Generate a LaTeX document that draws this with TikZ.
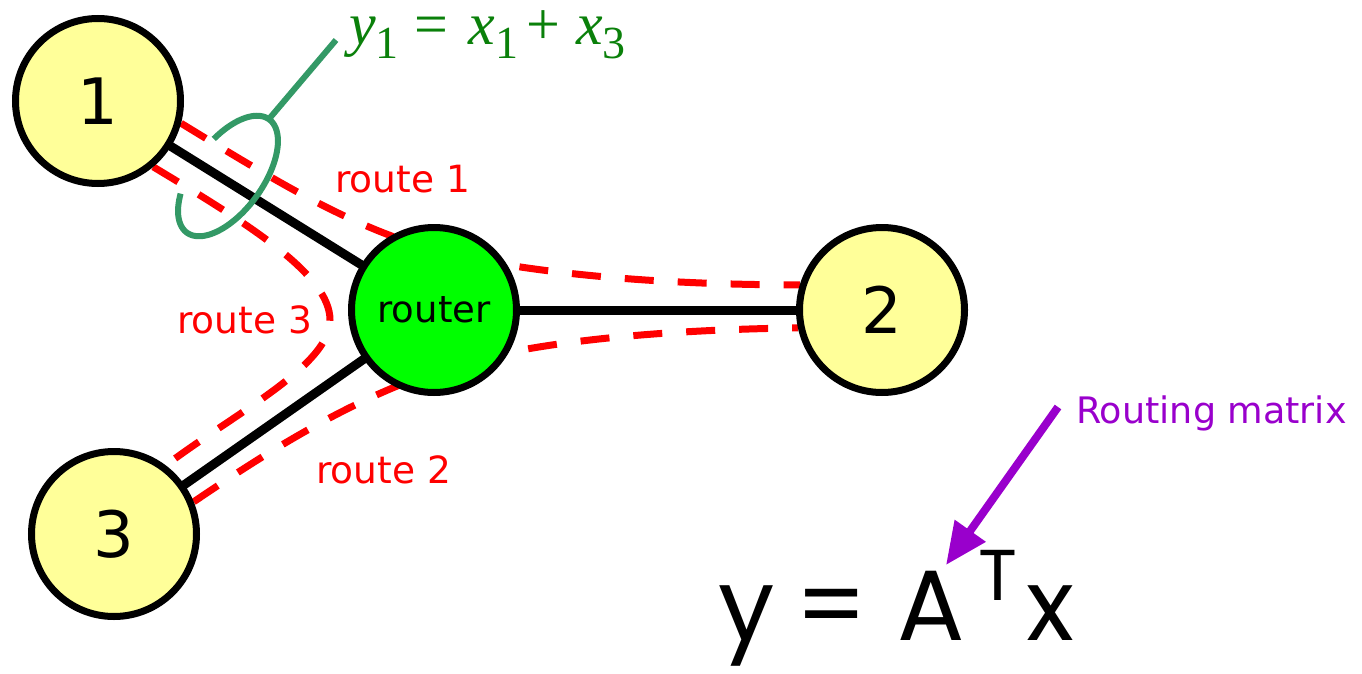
\documentclass[tikz,border=0pt]{standalone}
\usepackage{fontspec}
\setmainfont{DejaVu Sans}
\newfontfamily\tnr{Liberation Serif}
\newfontfamily\hand{Poppins}
\usetikzlibrary{arrows.meta,backgrounds}
\definecolor{hostyellow}{HTML}{FFFF99}
\definecolor{routergreen}{HTML}{00FF00}
\definecolor{routered}{HTML}{FF0000}
\definecolor{ringgreen}{HTML}{339966}
\definecolor{eqgreen}{HTML}{0A800A}
\definecolor{arrowpurple}{HTML}{9900CC}
\tikzset{
  hostnode/.style={circle, draw=black, line width=7pt, fill=hostyellow, minimum size=165pt, inner sep=0pt, font=\fontsize{64}{64}\selectfont},
  routernode/.style={circle, draw=black, line width=7pt, fill=routergreen, minimum size=165pt, inner sep=0pt, font=\fontsize{37}{37}\selectfont},
  link/.style={draw=black, line width=9pt},
  routepath/.style={draw=routered, line width=7pt, dash pattern=on 29pt off 24pt},
  routelabel/.style={anchor=base west, inner sep=0pt, text=routered, font=\fontsize{37.5}{37.5}\selectfont},
  ring/.style={draw=ringgreen, line width=6pt},
  pointer/.style={draw=arrowpurple, line width=8pt, -{Triangle[length=42pt,width=36pt]}}
}
\newcommand{\eqsub}[1]{\raisebox{-14pt}{\fontsize{46}{46}\selectfont #1}}
\begin{document}
\begin{tikzpicture}[x=1pt,y=-1pt]
\useasboundingbox (0,0) rectangle (1362,674);
% nodes
\node[hostnode] (n1) at (98,101) {1};
\node[hostnode] (n2) at (882,310) {2};
\node[hostnode] (n3) at (114,534) {3};
\node[routernode] (r) at (434,310) {router};
\begin{scope}[on background layer]
  \draw[link] (n1.center) -- (r.center);
  \draw[link] (r.center) -- (n2.center);
  \draw[link] (r.center) -- (n3.center);
  % route 1
  \draw[routepath] (n1.-15) .. controls (290,190) and (350,225) .. (433,250)
        .. controls (520,272) and (650,285) .. (n2.163);
  % route 2
  \draw[routepath] (n3.22) .. controls (270,450) and (350,400) .. (440,370)
        .. controls (520,343) and (650,330) .. (n2.-168);
  % route 3
  \draw[routepath] (n1.-50) .. controls (250,225) and (330,275) .. (330,320)
        .. controls (330,365) and (240,410) .. (n3.53);
  % ring (front part only)
  \draw[ring] plot[domain=-72:233, samples=90, smooth]
     ({228+70*cos(\x)*0.588+35*sin(\x)*0.809},{176-70*cos(\x)*0.809+35*sin(\x)*0.588});
  \coordinate (ringtop) at (269,119);
  \coordinate (ringend) at (336,40);
  \draw[ring] (ringtop) -- (ringend);
\end{scope}
% labels
\node[routelabel] (l1) at (335,192) {route 1};
\node[routelabel] (l3) at (177,333) {route 3};
\node[routelabel] (l2) at (316,483) {route 2};
\node[anchor=base west, inner sep=0pt, text=eqgreen, font=\tnr\fontsize{60}{60}\selectfont] (eq) at (349,45)
  {\textit{y}\eqsub{1}\hspace{16pt}=\hspace{20pt}\textit{x}\eqsub{1}\hspace{8pt}+\hspace{16pt}\textit{x}\eqsub{3}};
\node[anchor=base west, inner sep=0pt, text=arrowpurple, font=\fontsize{36.5}{36.5}\selectfont] (rm) at (1076,423) {Routing matrix};
\node[anchor=base west, inner sep=0pt, font=\hand\fontsize{100}{100}\selectfont] (yax) at (702,640)
  {\makebox[88pt][c]{y}\makebox[84pt][c]{=}\makebox[114pt][c]{A}\makebox[20pt][c]{\raisebox{40pt}{\fontsize{72}{72}\selectfont T}}\makebox[84pt][c]{x}};
\coordinate (pstart) at (1058,407);
\coordinate (ptip) at (946,565);
\draw[pointer] (pstart) -- (ptip);
\end{tikzpicture}
\end{document}
